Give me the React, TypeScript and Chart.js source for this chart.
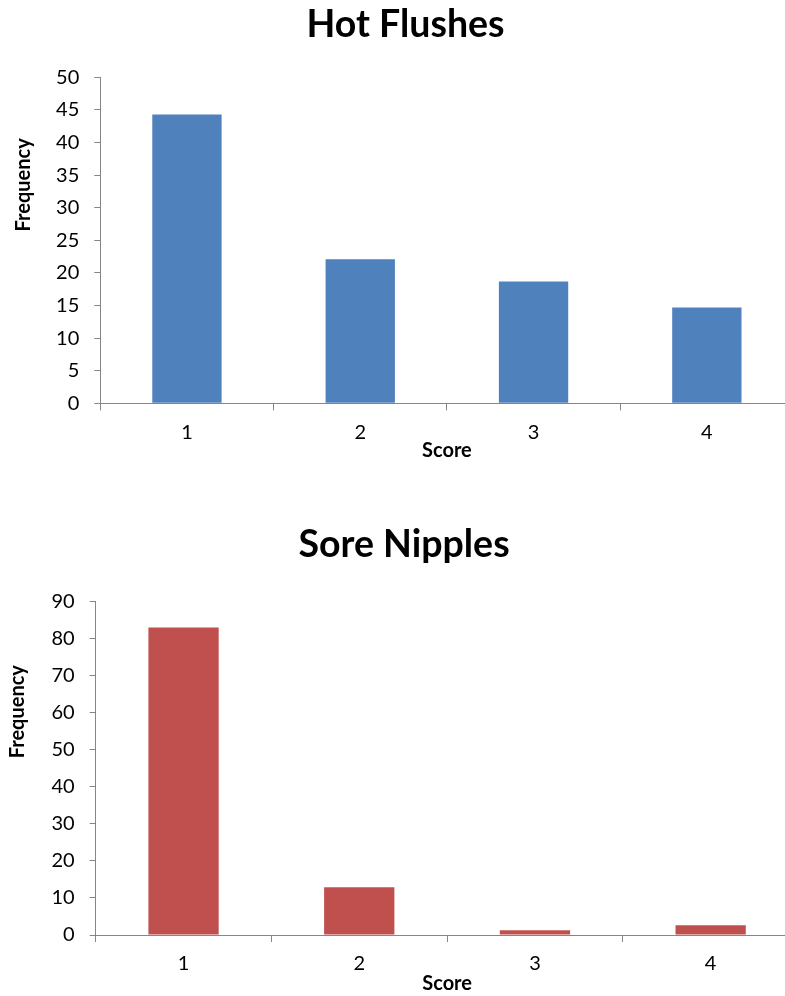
import { useEffect, useRef } from "react";
import { Chart, registerables } from "chart.js";

Chart.register(...registerables);

// Score categories shared by both histograms
const scores = ["1", "2", "3", "4"];

// Frequencies per score
const hotFlushes = [44.3, 22.1, 18.7, 14.7];
const soreNipples = [83, 12.9, 1.3, 2.6];

// Value-axis ranges [min, max, step]
const hotFlushesAxis = [0, 50, 5];
const soreNipplesAxis = [0, 90, 10];

const FONT = "Lato, 'Open Sans', sans-serif";
const AXIS_GREY = "#868686";

// Heading above the plot plus the rotated value-axis caption
const captions = {
  id: "captions",
  afterDraw(chart: any, _args: any, opts: any) {
    if (!opts) return;
    const { ctx, chartArea } = chart;
    ctx.save();
    ctx.fillStyle = "#000";
    ctx.textAlign = "center";
    ctx.textBaseline = "middle";

    ctx.font = `bold 37.5px ${FONT}`;
    ctx.fillText(opts.title, opts.titleX, opts.titleY);

    ctx.font = `bold 20px ${FONT}`;
    ctx.translate(opts.sideX, chartArea.top + chartArea.height * opts.sideFrac);
    ctx.rotate(-Math.PI / 2);
    ctx.fillText(opts.side, 0, 0);
    ctx.restore();
  },
};

type PanelProps = {
  title: string;
  values: number[];
  color: string;
  axis: number[];
  top: number;
  height: number;
  yWidth: number;
  xHeight: number;
  padTop: number;
  padRight: number;
  titleX: number;
  titleY: number;
  sideX: number;
};

function Panel(p: PanelProps) {
  const ref = useRef<HTMLCanvasElement | null>(null);

  useEffect(() => {
    if (!ref.current) return;
    const chart = new Chart(ref.current, {
      type: "bar",
      data: {
        labels: scores,
        datasets: [
          {
            data: p.values,
            backgroundColor: p.color,
            borderWidth: 0,
            categoryPercentage: 1,
            barPercentage: 0.4,
          },
        ],
      },
      plugins: [captions],
      options: {
        animation: false,
        responsive: false,
        devicePixelRatio: 1,
        layout: { padding: { left: 0, right: p.padRight, top: p.padTop, bottom: 0 } },
        plugins: {
          legend: { display: false },
          tooltip: { enabled: false },
          title: { display: false },
          captions: {
            title: p.title,
            titleX: p.titleX,
            titleY: p.titleY,
            side: "Frequency",
            sideX: p.sideX,
            sideFrac: 0.33,
          },
        } as any,
        scales: {
          x: {
            type: "category",
            offset: true,
            grid: {
              offset: true,
              drawOnChartArea: false,
              drawTicks: true,
              tickLength: 7,
              color: AXIS_GREY,
            },
            border: { color: AXIS_GREY, width: 1 },
            ticks: {
              color: "#000",
              font: { family: FONT, size: 20 },
              padding: 10,
            },
            title: {
              display: true,
              text: "Score",
              color: "#000",
              font: { family: FONT, size: 20, weight: "bold" },
              padding: 0,
            },
            afterFit: (s: any) => {
              s.height = p.xHeight;
            },
          },
          y: {
            min: p.axis[0],
            max: p.axis[1],
            grid: {
              drawOnChartArea: false,
              drawTicks: true,
              tickLength: 6,
              color: AXIS_GREY,
            },
            border: { color: AXIS_GREY, width: 1 },
            ticks: {
              stepSize: p.axis[2],
              color: "#000",
              font: { family: FONT, size: 20 },
              padding: 15,
            },
            afterFit: (s: any) => {
              s.width = p.yWidth;
            },
          },
        },
      } as any,
    });
    return () => chart.destroy();
  }, []);

  return (
    <canvas
      ref={ref}
      width={800}
      height={p.height}
      style={{ position: "absolute", left: 0, top: p.top, display: "block" }}
    />
  );
}

export default function App() {
  return (
    <div
      style={{
        position: "absolute",
        left: 0,
        top: 0,
        width: 785,
        height: 996,
        overflow: "hidden",
        background: "#fff",
      }}
    >
      <Panel
        title="Hot Flushes"
        values={hotFlushes}
        color="#4F81BD"
        axis={hotFlushesAxis}
        top={0}
        height={463}
        yWidth={100.3}
        xHeight={59.7}
        padTop={77.3}
        padRight={6.5}
        titleX={405.5}
        titleY={25}
        sideX={24}
      />
      <Panel
        title="Sore Nipples"
        values={soreNipples}
        color="#C0504D"
        axis={soreNipplesAxis}
        top={498}
        height={498}
        yWidth={95.7}
        xHeight={61}
        padTop={103.7}
        padRight={1.5}
        titleX={404}
        titleY={47}
        sideX={17.5}
      />
    </div>
  );
}
